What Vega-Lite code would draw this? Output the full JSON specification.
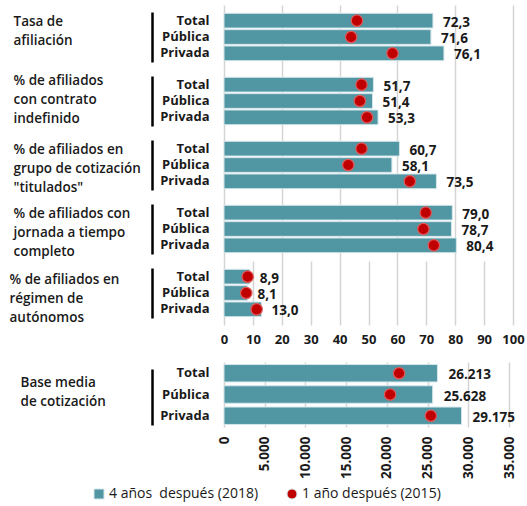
{
  "$schema": "https://vega.github.io/schema/vega-lite/v6.json",
  "background": "white",
  "padding": {"left": 9, "top": 5, "right": 5, "bottom": 2},
  "config": {
    "locale": {"number": {"decimal": ",", "thousands": ".", "grouping": [3], "currency": ["", " €"]}},
    "font": "Open Sans",
    "view": {"stroke": null},
    "axisY": {"offset": 72, "domain": true, "domainColor": "#000000", "domainWidth": 2.5, "ticks": false, "tickSize": 0,
              "labelPadding": -57, "labelAlign": "right", "labelFontSize": 13, "labelFontWeight": "bold", "labelColor": "#1a1a1a",
              "grid": false, "titleAngle": 0, "titleAlign": "left", "titleBaseline": "middle", "titleFontSize": 13.5,
              "titleFontWeight": 600, "titleColor": "#1a1a1a", "titleLineHeight": 19},
    "axisX": {"domain": false, "ticks": false, "grid": true, "gridColor": "#d4d4d4", "gridWidth": 1.5, "labelOverlap": false,
              "labelFontSize": 13.5, "labelFontWeight": "bold", "labelColor": "#1a1a1a"},
    "legend": {"layout": {"bottom": {"anchor": "middle"}}},
    "bar": {"color": "#5096A3", "stroke": "#d5e6ea", "strokeWidth": 1},
    "text": {"align": "left", "dx": 10, "dy": 2, "fontSize": 13.5, "fontWeight": "bold", "color": "#1a1a1a"},
    "point": {"filled": true, "size": 130, "stroke": "#e05a5a", "strokeWidth": 1.2, "opacity": 1}
  },
  "datasets": {
    "pct": [
      {"orden": 1, "cat": "Total", "v2018": 72.3, "v2015": 46.0},
      {"orden": 1, "cat": "Pública", "v2018": 71.6, "v2015": 44.0},
      {"orden": 1, "cat": "Privada", "v2018": 76.1, "v2015": 58.3},
      {"orden": 2, "cat": "Total", "v2018": 51.7, "v2015": 47.6},
      {"orden": 2, "cat": "Pública", "v2018": 51.4, "v2015": 47.0},
      {"orden": 2, "cat": "Privada", "v2018": 53.3, "v2015": 49.5},
      {"orden": 3, "cat": "Total", "v2018": 60.7, "v2015": 47.6},
      {"orden": 3, "cat": "Pública", "v2018": 58.1, "v2015": 43.0},
      {"orden": 3, "cat": "Privada", "v2018": 73.5, "v2015": 64.3},
      {"orden": 4, "cat": "Total", "v2018": 79.0, "v2015": 69.8},
      {"orden": 4, "cat": "Pública", "v2018": 78.7, "v2015": 69.0},
      {"orden": 4, "cat": "Privada", "v2018": 80.4, "v2015": 72.6},
      {"orden": 5, "cat": "Total", "v2018": 8.9, "v2015": 8.2},
      {"orden": 5, "cat": "Pública", "v2018": 8.1, "v2015": 7.7},
      {"orden": 5, "cat": "Privada", "v2018": 13.0, "v2015": 11.3}
    ],
    "base": [
      {"cat": "Total", "v2018": 26213, "v2015": 21500},
      {"cat": "Pública", "v2018": 25628, "v2015": 20400},
      {"cat": "Privada", "v2018": 29175, "v2015": 25400}
    ]
  },
  "vconcat": [
    {
      "vconcat": [
        {
          "data": {"name": "pct"}, "transform": [{"filter": "datum.orden == 1"}],
          "width": 289, "height": 64,
          "encoding": {"y": {"field": "cat", "type": "nominal", "sort": ["Total", "Pública", "Privada"],
            "scale": {"paddingInner": 0.1, "paddingOuter": 0.51},
            "axis": {"title": ["Tasa de", "afiliación"], "titleX": -139, "titleY": 16, "domainDash": [50, 14], "domainDashOffset": 57}}},
          "layer": [
            {"mark": "bar", "encoding": {
              "x": {"field": "v2018", "type": "quantitative", "scale": {"domain": [0, 100]},
                    "axis": {"title": null, "values": [0, 10, 20, 30, 40, 50, 60, 70, 80, 90, 100], "labels": false}},
              "color": {"datum": "4 años\u00a0 después (2018)", "type": "nominal",
                        "scale": {"domain": ["4 años\u00a0 después (2018)", "1 año después (2015)"], "range": ["#5096A3", "#C00000"]},
                        "legend": {"orient": "bottom", "direction": "horizontal", "title": null, "labelFontSize": 14, "labelColor": "#1a1a1a",
                                   "symbolSize": 100, "columnPadding": 26, "labelOffset": 3, "offset": 8}}}},
            {"mark": "text", "encoding": {"x": {"field": "v2018", "type": "quantitative"}, "text": {"field": "v2018", "type": "quantitative", "format": ".1f"}}},
            {"mark": "point", "encoding": {"x": {"field": "v2015", "type": "quantitative"},
              "color": {"datum": "1 año después (2015)", "type": "nominal"},
              "shape": {"datum": "1 año después (2015)", "type": "nominal",
                        "scale": {"domain": ["4 años\u00a0 después (2018)", "1 año después (2015)"], "range": ["square", "circle"]}}}}
          ]
        },
        {
          "data": {"name": "pct"}, "transform": [{"filter": "datum.orden == 2"}],
          "width": 289, "height": 64,
          "encoding": {"y": {"field": "cat", "type": "nominal", "sort": ["Total", "Pública", "Privada"],
            "scale": {"paddingInner": 0.1, "paddingOuter": 0.51},
            "axis": {"title": ["% de afiliados", "con contrato", "indefinido"], "titleX": -139, "titleY": 11, "domainDash": [50, 14], "domainDashOffset": 57}}},
          "layer": [
            {"mark": "bar", "encoding": {
              "x": {"field": "v2018", "type": "quantitative", "scale": {"domain": [0, 100]},
                    "axis": {"title": null, "values": [0, 10, 20, 30, 40, 50, 60, 70, 80, 90, 100], "labels": false}},
              "color": {"datum": "4 años\u00a0 después (2018)", "type": "nominal"}}},
            {"mark": "text", "encoding": {"x": {"field": "v2018", "type": "quantitative"}, "text": {"field": "v2018", "type": "quantitative", "format": ".1f"}}},
            {"mark": "point", "encoding": {"x": {"field": "v2015", "type": "quantitative"},
              "color": {"datum": "1 año después (2015)", "type": "nominal"},
              "shape": {"datum": "1 año después (2015)", "type": "nominal"}}}
          ]
        },
        {
          "data": {"name": "pct"}, "transform": [{"filter": "datum.orden == 3"}],
          "width": 289, "height": 64,
          "encoding": {"y": {"field": "cat", "type": "nominal", "sort": ["Total", "Pública", "Privada"],
            "scale": {"paddingInner": 0.1, "paddingOuter": 0.51},
            "axis": {"title": ["% de afiliados en", "grupo de cotización", "\"titulados\""], "titleX": -139, "titleY": 16, "domainDash": [50, 14], "domainDashOffset": 57}}},
          "layer": [
            {"mark": "bar", "encoding": {
              "x": {"field": "v2018", "type": "quantitative", "scale": {"domain": [0, 100]},
                    "axis": {"title": null, "values": [0, 10, 20, 30, 40, 50, 60, 70, 80, 90, 100], "labels": false}},
              "color": {"datum": "4 años\u00a0 después (2018)", "type": "nominal"}}},
            {"mark": "text", "encoding": {"x": {"field": "v2018", "type": "quantitative"}, "text": {"field": "v2018", "type": "quantitative", "format": ".1f"}}},
            {"mark": "point", "encoding": {"x": {"field": "v2015", "type": "quantitative"},
              "color": {"datum": "1 año después (2015)", "type": "nominal"},
              "shape": {"datum": "1 año después (2015)", "type": "nominal"}}}
          ]
        },
        {
          "data": {"name": "pct"}, "transform": [{"filter": "datum.orden == 4"}],
          "width": 289, "height": 64,
          "encoding": {"y": {"field": "cat", "type": "nominal", "sort": ["Total", "Pública", "Privada"],
            "scale": {"paddingInner": 0.1, "paddingOuter": 0.51},
            "axis": {"title": ["% de afiliados con", "jornada a tiempo", "completo"], "titleX": -139, "titleY": 16, "domainDash": [50, 14], "domainDashOffset": 57}}},
          "layer": [
            {"mark": "bar", "encoding": {
              "x": {"field": "v2018", "type": "quantitative", "scale": {"domain": [0, 100]},
                    "axis": {"title": null, "values": [0, 10, 20, 30, 40, 50, 60, 70, 80, 90, 100], "labels": false}},
              "color": {"datum": "4 años\u00a0 después (2018)", "type": "nominal"}}},
            {"mark": "text", "encoding": {"x": {"field": "v2018", "type": "quantitative"}, "text": {"field": "v2018", "type": "quantitative", "format": ".1f"}}},
            {"mark": "point", "encoding": {"x": {"field": "v2015", "type": "quantitative"},
              "color": {"datum": "1 año después (2015)", "type": "nominal"},
              "shape": {"datum": "1 año después (2015)", "type": "nominal"}}}
          ]
        },
        {
          "data": {"name": "pct"}, "transform": [{"filter": "datum.orden == 5"}],
          "width": 289, "height": 64,
          "encoding": {"y": {"field": "cat", "type": "nominal", "sort": ["Total", "Pública", "Privada"],
            "scale": {"paddingInner": 0.1, "paddingOuter": 0.51},
            "axis": {"title": ["% de afiliados en", "régimen de", "autónomos"], "titleX": -143, "titleY": 18, "domainDash": [50, 14], "domainDashOffset": 57}}},
          "layer": [
            {"mark": "bar", "encoding": {
              "x": {"field": "v2018", "type": "quantitative", "scale": {"domain": [0, 100]},
                    "axis": {"title": null, "values": [0, 10, 20, 30, 40, 50, 60, 70, 80, 90, 100], "tickCount": 11, "labelPadding": 8,
                             "labelOverlap": false, "labelFontSize": 13, "labelBound": false, "labelFlush": false}},
              "color": {"datum": "4 años\u00a0 después (2018)", "type": "nominal"}}},
            {"mark": "text", "encoding": {
              "x": {"field": "v2018", "type": "quantitative",
                    "axis": {"title": null, "values": [0, 10, 20, 30, 40, 50, 60, 70, 80, 90, 100], "tickCount": 11, "labelPadding": 8,
                             "labelOverlap": false, "labelFontSize": 13, "labelBound": false, "labelFlush": false}},
              "text": {"field": "v2018", "type": "quantitative", "format": ".1f"}}},
            {"mark": "point", "encoding": {
              "x": {"field": "v2015", "type": "quantitative",
                    "axis": {"title": null, "values": [0, 10, 20, 30, 40, 50, 60, 70, 80, 90, 100], "tickCount": 11, "labelPadding": 8,
                             "labelOverlap": false, "labelFontSize": 13, "labelBound": false, "labelFlush": false}},
              "color": {"datum": "1 año después (2015)", "type": "nominal"},
              "shape": {"datum": "1 año después (2015)", "type": "nominal"}}}
          ]
        }
      ],
      "spacing": 0,
      "bounds": "flush"
    },
    {
      "data": {"name": "base"},
      "width": 285, "height": 65,
      "encoding": {"y": {"field": "cat", "type": "nominal", "sort": ["Total", "Pública", "Privada"],
        "scale": {"paddingInner": 0.18, "paddingOuter": 0.12},
        "axis": {"title": ["Base media", "de cotización"], "titleX": -132, "titleY": 20, "domainDash": [56, 9], "domainDashOffset": 58}}},
      "layer": [
        {"mark": "bar", "encoding": {
          "x": {"field": "v2018", "type": "quantitative", "scale": {"domain": [0, 35000]},
                "axis": {"title": null, "values": [0, 5000, 10000, 15000, 20000, 25000, 30000, 35000], "format": ",.0f",
                         "labelAngle": -90, "labelPadding": 9, "labelOverlap": false}},
          "color": {"datum": "4 años\u00a0 después (2018)", "type": "nominal"}}},
        {"mark": {"type": "text", "dx": 11}, "encoding": {"x": {"field": "v2018", "type": "quantitative"}, "text": {"field": "v2018", "type": "quantitative", "format": ",.0f"}}},
        {"mark": "point", "encoding": {"x": {"field": "v2015", "type": "quantitative"},
          "color": {"datum": "1 año después (2015)", "type": "nominal"},
          "shape": {"datum": "1 año después (2015)", "type": "nominal"}}}
      ]
    }
  ],
  "spacing": 16
}
